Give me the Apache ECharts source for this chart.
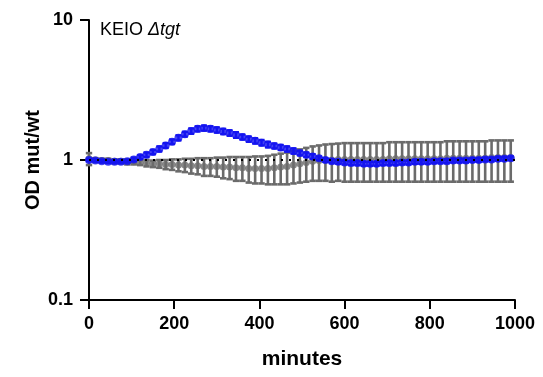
<!DOCTYPE html>
<html><head><meta charset="utf-8">
<script src="https://cdn.jsdelivr.net/npm/echarts@6/dist/echarts.min.js"></script>
<style>html,body{margin:0;padding:0;background:#fff}#c{width:543px;height:377px}</style>
</head><body><div id="c"></div>
<script>
// time points (minutes)
const times = [0,15,30,45,60,75,90,105,120,135,150,165,180,195,210,225,240,255,270,285,300,315,330,345,360,375,390,405,420,435,450,465,480,495,510,525,540,555,570,585,600,615,630,645,660,675,690,705,720,735,750,765,780,795,810,825,840,855,870,885,900,915,930,945,960,975,990];
// mutant (blue) mean and SD
const blueMean = [1.00,0.99,0.98,0.97,0.97,0.97,0.98,1.01,1.05,1.09,1.14,1.20,1.27,1.35,1.44,1.53,1.61,1.67,1.69,1.67,1.64,1.60,1.56,1.51,1.46,1.41,1.37,1.33,1.29,1.26,1.23,1.20,1.16,1.12,1.09,1.06,1.03,1.00,0.98,0.97,0.96,0.95,0.95,0.94,0.94,0.94,0.95,0.95,0.95,0.96,0.96,0.97,0.97,0.97,0.98,0.98,0.98,0.99,0.99,0.99,1.00,1.00,1.01,1.01,1.02,1.02,1.03];
const blueSD = [0.02,0.02,0.02,0.02,0.02,0.02,0.02,0.03,0.03,0.04,0.04,0.05,0.05,0.05,0.06,0.06,0.07,0.07,0.07,0.07,0.07,0.07,0.07,0.07,0.06,0.06,0.06,0.06,0.06,0.05,0.05,0.05,0.05,0.04,0.04,0.04,0.03,0.03,0.03,0.03,0.03,0.03,0.03,0.03,0.03,0.03,0.03,0.03,0.03,0.03,0.03,0.03,0.03,0.03,0.03,0.03,0.03,0.03,0.03,0.03,0.03,0.03,0.03,0.03,0.03,0.03,0.03];
// control (grey) mean and SD
const greyMean = [1.02,1.00,0.99,0.99,0.98,0.98,0.97,0.97,0.96,0.95,0.94,0.94,0.93,0.93,0.92,0.92,0.91,0.91,0.90,0.90,0.90,0.89,0.89,0.88,0.88,0.87,0.87,0.87,0.87,0.88,0.89,0.90,0.92,0.94,0.96,0.98,0.99,1.00,1.00,1.01,1.01,1.01,1.01,1.01,1.01,1.01,1.01,1.02,1.02,1.02,1.02,1.02,1.02,1.02,1.02,1.02,1.03,1.03,1.03,1.03,1.03,1.03,1.03,1.04,1.04,1.04,1.04];
const greySD = [0.10,0.03,0.03,0.03,0.03,0.03,0.04,0.04,0.04,0.05,0.05,0.06,0.07,0.08,0.09,0.10,0.11,0.12,0.13,0.13,0.14,0.15,0.16,0.17,0.17,0.18,0.19,0.19,0.20,0.21,0.22,0.23,0.24,0.25,0.26,0.27,0.28,0.29,0.30,0.30,0.31,0.31,0.31,0.31,0.31,0.31,0.31,0.32,0.32,0.32,0.32,0.32,0.32,0.32,0.32,0.32,0.33,0.33,0.33,0.33,0.33,0.33,0.33,0.34,0.34,0.34,0.34];
const xTicks = [0,200,400,600,800,1000];
const yTicks = [0.1,1,10];
const refLine = [[0,1],[1000,1]];

const BLUE = '#1414f0', GREY = '#6b6b6b';
function errData(mean, sd){ return times.map((t,i)=>[t, mean[i]-sd[i], mean[i]+sd[i]]); }
function errRender(color, capW, lw){
  return function(params, api){
    const x = api.value(0), lo = api.value(1), hi = api.value(2);
    const pLo = api.coord([x, lo]), pHi = api.coord([x, hi]);
    const st = {stroke: color, lineWidth: lw};
    return {type:'group', children:[
      {type:'line', shape:{x1:pLo[0],y1:pLo[1],x2:pHi[0],y2:pHi[1]}, style:st},
      {type:'line', shape:{x1:pHi[0]-capW/2,y1:pHi[1],x2:pHi[0]+capW/2,y2:pHi[1]}, style:st},
      {type:'line', shape:{x1:pLo[0]-capW/2,y1:pLo[1],x2:pLo[0]+capW/2,y2:pLo[1]}, style:st}
    ]};
  };
}
const chart = echarts.init(document.getElementById('c'), null, {renderer:'canvas'});
const FONT = '"Liberation Sans", Arial, sans-serif';
chart.setOption({
  animation:false,
  backgroundColor:'#fff',
  grid:{left:89, right:28, top:20, bottom:77},
  xAxis:{type:'value', min:0, max:1000, interval:200,
    name:'minutes', nameLocation:'middle', nameGap:49, nameMoveOverlap:false,
    nameTextStyle:{fontFamily:FONT, fontWeight:'bold', fontSize:21, color:'#000'},
    axisLine:{lineStyle:{color:'#000', width:2}},
    axisTick:{length:9, lineStyle:{color:'#000', width:2}},
    axisLabel:{fontFamily:FONT, fontWeight:'bold', fontSize:18, color:'#000', margin:15,
      formatter:v=>xTicks.includes(v)?String(v):''},
    splitLine:{show:false}},
  yAxis:{type:'log', logBase:10, min:0.1, max:10,
    name:'OD mut/wt', nameLocation:'middle', nameGap:46, nameMoveOverlap:false,
    nameTextStyle:{fontFamily:FONT, fontWeight:'bold', fontSize:20, color:'#000'},
    axisLine:{lineStyle:{color:'#000', width:2}},
    axisTick:{length:9, lineStyle:{color:'#000', width:2}},
    minorTick:{show:false},
    axisLabel:{fontFamily:FONT, fontWeight:'bold', fontSize:18, color:'#000', margin:16,
      formatter:v=>{const f=yTicks.find(t=>Math.abs(t-v)<1e-9);return f===undefined?'':String(f);}},
    splitLine:{show:false}},
  graphic:[{type:'text', left:100, top:21, style:{
    text:'{a|KEIO }{b|Δtgt}', rich:{
      a:{fontFamily:FONT, fontSize:18, fill:'#000'},
      b:{fontFamily:FONT, fontSize:18, fontStyle:'italic', fill:'#000'}}}}],
  series:[
    {type:'custom', name:'greyErr', data:errData(greyMean, greySD), renderItem:errRender(GREY, 6.4, 2.6), z:2, silent:true, encode:{x:0,y:[1,2]}},
    {type:'scatter', name:'grey', data:times.map((t,i)=>[t,greyMean[i]]), symbol:'circle', symbolSize:7, itemStyle:{color:GREY}, z:3, silent:true},
    {type:'custom', name:'blueErr', data:errData(blueMean, blueSD), renderItem:errRender(BLUE, 6, 2.4), z:4, silent:true, encode:{x:0,y:[1,2]}},
    {type:'scatter', name:'blue', data:times.map((t,i)=>[t,blueMean[i]]), symbol:'circle', symbolSize:8, itemStyle:{color:BLUE}, z:5, silent:true},
    {type:'line', name:'ref', data:refLine, symbol:'none', lineStyle:{color:'#000', width:2, type:[2,6]}, z:6, silent:true}
  ]
});
</script></body></html>
